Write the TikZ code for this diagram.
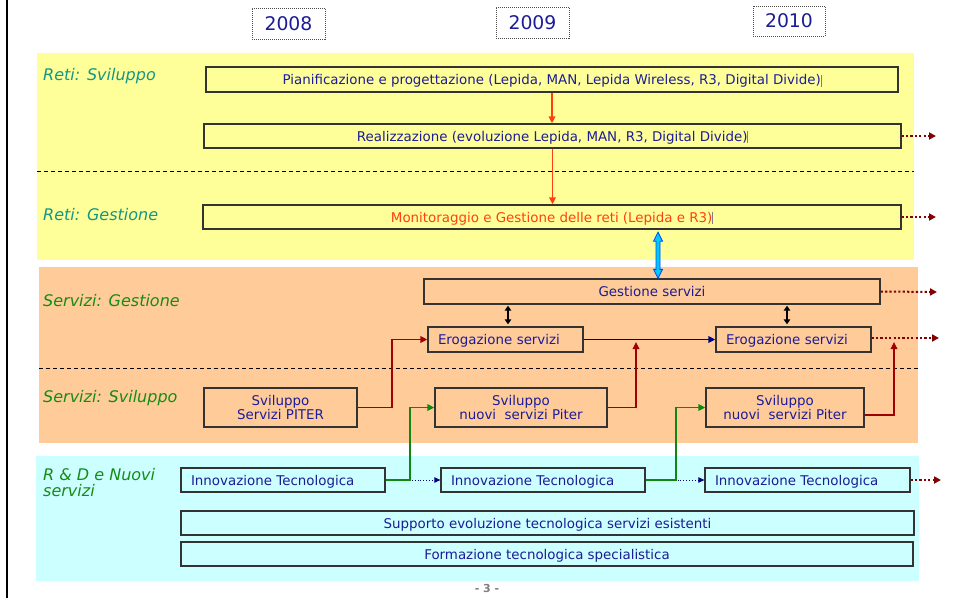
\documentclass[tikz,border=0pt]{standalone}
\usepackage{fontspec}
\setmainfont{DejaVu Sans}
\usetikzlibrary{arrows.meta,calc}
\definecolor{bandY}{RGB}{255,255,153}
\definecolor{bandP}{RGB}{255,204,153}
\definecolor{bandC}{RGB}{204,255,255}
\definecolor{navytxt}{RGB}{28,28,150}
\definecolor{orangered}{RGB}{255,64,16}
\definecolor{darkred}{RGB}{160,0,0}
\definecolor{dotred}{RGB}{130,0,0}
\definecolor{greenarr}{RGB}{16,136,16}
\definecolor{labteal}{RGB}{20,150,130}
\definecolor{labgreen}{RGB}{20,140,20}
\definecolor{navyarr}{RGB}{0,0,128}
\definecolor{lightblue}{RGB}{0,200,255}
\definecolor{outblue}{RGB}{0,70,255}
\newcommand{\bxfont}{\fontsize{13.4}{14}\selectfont}
\newcommand{\stray}{\textcolor{gray}{\rule[-2pt]{0.6pt}{12pt}}}
\tikzset{
  bx/.style={draw=black!80, line width=1.3pt, inner sep=0pt, font=\bxfont, text=navytxt, align=center},
  one/.style={text height=11pt, text depth=1pt},
  lbx/.style={bx, one, align=left, inner xsep=10pt},
  lab/.style={anchor=west, inner sep=0pt, font=\fontsize{16}{17}\selectfont\itshape, align=left},
  yearbox/.style={draw=black!70, line width=0.8pt, dash pattern=on 1pt off 1pt, text=navytxt, font=\fontsize{18.8}{20}\selectfont, inner sep=0pt},
  dotarr/.style={draw=dotred, line width=2pt, dash pattern=on 2.2pt off 2.2pt, -{Triangle[length=7pt,width=7pt]}},
  redarr/.style={draw=orangered, line width=1.6pt, -{Triangle[length=7pt,width=6.5pt]}},
  drarr/.style={draw=darkred, line width=1.7pt, -{Triangle[length=7pt,width=6.5pt]}},
  grarr/.style={draw=greenarr, line width=1.7pt, -{Triangle[length=7pt,width=6.5pt]}},
  bkarr/.style={draw=black, line width=1.5pt, {Triangle[length=5pt,width=6.5pt]}-{Triangle[length=5pt,width=6.5pt]}},
  bldot/.style={draw=navyarr, line width=0.9pt, dotted, -{Triangle[length=6pt,width=5.5pt]}},
  dashsep/.style={draw=black, line width=0.9pt, dash pattern=on 4pt off 3pt}
}
\begin{document}
\begin{tikzpicture}[x=1pt,y=-1pt]
\useasboundingbox (0,0) rectangle (956,598);
\fill[white] (0,0) rectangle (956,598);
% left border line
\draw[line width=2.5pt] (7,0) -- (7,598);
% bands
\fill[bandY] (37,53) rectangle (914,260);
\fill[bandP] (39,267) rectangle (918,443);
\fill[bandC] (36,456) rectangle (919,581);
\draw[dashsep] (37,171) -- (914,171);
\draw[dashsep] (39,368) -- (918,368);
% years
\node[yearbox, minimum width=73pt, minimum height=31pt] (y8) at (288.5,23.5) {2008};
\node[yearbox, minimum width=73pt, minimum height=31pt] (y9) at (532.5,22.5) {2009};
\node[yearbox, minimum width=72pt, minimum height=30pt] (y10) at (789,21) {2010};
% labels
\node[lab, text=labteal] (l1) at (43,76) {Reti: Sviluppo};
\node[lab, text=labteal] (l2) at (43,215) {Reti: Gestione};
\node[lab, text=labgreen] (l3) at (43,301) {Servizi: Gestione};
\node[lab, text=labgreen] (l4) at (43,398) {Servizi: Sviluppo};
\node[lab, text=labgreen, anchor=north west, font=\fontsize{16}{16}\selectfont\itshape] (l5) at (43,468) {R \& D e Nuovi\\servizi};
% yellow boxes
\node[bx, one, fill=bandY, minimum width=692pt, minimum height=25pt] (plan) at (552,79.5) {Pianificazione e progettazione (Lepida, MAN, Lepida Wireless, R3, Digital Divide)\stray};
\node[bx, one, fill=bandY, minimum width=697pt, minimum height=24pt] (real) at (552.5,136) {Realizzazione (evoluzione Lepida, MAN, R3, Digital Divide)\stray};
\node[bx, one, fill=bandY, minimum width=698pt, minimum height=24pt, text=orangered] (moni) at (552,217) {Monitoraggio e Gestione delle reti (Lepida e R3)\stray};
% peach boxes
\node[bx, one, fill=bandP, minimum width=456pt, minimum height=25pt] (gest) at (652,291.5) {Gestione servizi};
\node[lbx, fill=bandP, text width=135pt, minimum height=25pt] (ero1) at (505.5,339.5) {Erogazione servizi};
\node[lbx, fill=bandP, text width=135pt, minimum height=25pt] (ero2) at (793.5,339.5) {Erogazione servizi};
\node[bx, fill=bandP, minimum width=153pt, minimum height=39pt] (pit) at (280.5,407.5) {Sviluppo\\Servizi PITER};
\node[bx, fill=bandP, minimum width=172pt, minimum height=39pt] (sv1) at (521,407.5) {Sviluppo\\nuovi\ \ servizi Piter};
\node[bx, fill=bandP, minimum width=158pt, minimum height=39pt] (sv2) at (785,407.5) {Sviluppo\\nuovi\ \ servizi Piter};
% cyan boxes
\node[lbx, fill=bandC, text width=184pt, minimum height=24pt] (inn1) at (283,480) {Innovazione Tecnologica};
\node[lbx, fill=bandC, text width=184pt, minimum height=24pt] (inn2) at (543,480) {Innovazione Tecnologica};
\node[lbx, fill=bandC, text width=185pt, minimum height=24pt] (inn3) at (807.5,480) {Innovazione Tecnologica};
\node[bx, one, fill=bandC, minimum width=733pt, minimum height=24pt] (sup) at (547.5,523) {Supporto evoluzione tecnologica servizi esistenti};
\node[bx, one, fill=bandC, minimum width=732pt, minimum height=24pt] (form) at (547,554) {Formazione tecnologica specialistica};
% page number
\node[text=black!50, font=\fontsize{11}{12}\selectfont\bfseries, inner sep=0pt] (pg) at (487,588) {- 3 -};
% coordinates
\coordinate (cx1) at (392,0);
\coordinate (cx2) at (410,0);
\coordinate (cx3) at (676,0);
\coordinate (cb) at (658,0);
\coordinate (ck1) at (508,0);
\coordinate (ck2) at (787,0);
\coordinate (t2) at (636,342);
\coordinate (t3) at (894,342);
\coordinate (e1) at (936,136);
\coordinate (e2) at (936,217);
\coordinate (e3) at (937,292);
\coordinate (e4) at (939,338);
\coordinate (e5) at (941,480);
% yellow arrows
\draw[redarr] (plan.south) -- (plan.south |- real.north);
\draw[redarr] (real.south) -- (real.south |- moni.north);
\draw[dotarr] (real.east) -- (e1);
\draw[dotarr] (moni.east) -- (e2);
% blue double arrow
\draw[fill=lightblue, draw=outblue, line width=0.8pt]
  ($(moni.south -| cb)+(0,2.5)$) -- ++(4.5,9) -- ++(-2.5,0) -- ($(gest.north -| cb)+(2,-9)$) -- ++(2.5,0)
  -- (gest.north -| cb) -- ++(-4.5,-9) -- ++(2.5,0) -- ($(moni.south -| cb)+(-2,11.5)$) -- ++(-2.5,0) -- cycle;
% peach arrows
\draw[bkarr] (gest.south -| ck1) ++(0,1) -- ($(ero1.north -| ck1)+(0,-2)$);
\draw[bkarr] (gest.south -| ck2) ++(0,1) -- ($(ero2.north -| ck2)+(0,-2)$);
\draw[draw=navyarr, line width=1.7pt, -{Triangle[length=7pt,width=6.5pt]}] (ero1.east) -- (ero2.west);
\draw[drarr] (pit.east) -| (cx1 |- ero1.west) -- (ero1.west);
\draw[drarr] (sv1.east) -| (t2);
\draw[drarr] ($(sv2.east)+(0,7.5)$) -| (t3);
\draw[dotarr] (gest.east) -- (e3);
\draw[dotarr] ($(ero2.east)+(0,-1.5)$) -- (e4);
% cyan arrows
\draw[bldot] (inn1.east) -- (inn2.west);
\draw[bldot] (inn2.east) -- (inn3.west);
\draw[grarr] (inn1.east) -| (cx2 |- sv1.west) -- (sv1.west);
\draw[grarr] (inn2.east) -| (cx3 |- sv2.west) -- (sv2.west);
\draw[dotarr] (inn3.east) -- (e5);
\end{tikzpicture}
\end{document}
